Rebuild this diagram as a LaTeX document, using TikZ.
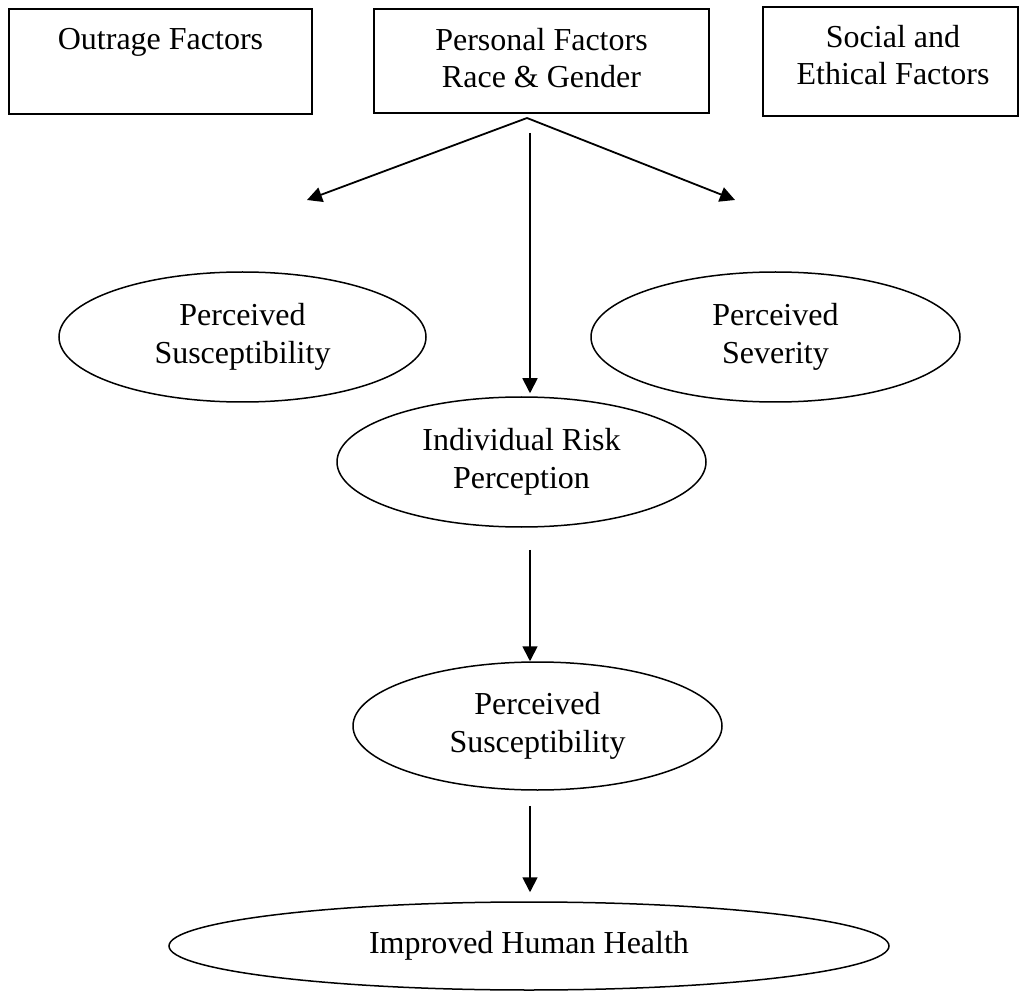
\documentclass[tikz,border=0pt]{standalone}
\usepackage{fontspec}
\setmainfont{Liberation Serif}
\usetikzlibrary{shapes.geometric,arrows.meta,calc}
\begin{document}
\begin{tikzpicture}[x=1pt,y=-1pt,
  box/.style={draw, line width=1.8pt, rectangle, inner sep=0pt},
  oval/.style={draw, line width=1.5pt, ellipse, inner sep=0pt, align=center, font=\fontsize{32}{38}\selectfont},
  txt/.style={inner sep=0pt, align=center, anchor=north, font=\fontsize{32}{37}\selectfont},
  arr/.style={line width=1.8pt, -{Triangle[length=15pt,width=15pt]}}]
\useasboundingbox (0,0) rectangle (1021,992);

% top boxes
\node[box, minimum width=303pt, minimum height=105pt] (outrage) at (160.5,61.5) {};
\node[txt] (outrageT) at (160.5,28) {Outrage Factors};
\node[box, minimum width=335pt, minimum height=104pt] (personal) at (541.5,61) {};
\node[txt] (personalT) at (541.5,28) {Personal Factors\\Race \& Gender};
\node[box, minimum width=255pt, minimum height=109pt] (social) at (890.5,61.5) {};
\node[txt] (socialT) at (893,25) {Social and\\Ethical Factors};

% ellipses
\node[oval, minimum width=367pt, minimum height=130pt] (ps1) at (242.5,337) {Perceived\\Susceptibility};
\node[oval, minimum width=369pt, minimum height=130pt] (sev) at (775.5,337) {Perceived\\Severity};
\node[oval, minimum width=369pt, minimum height=130pt] (irp) at (521.5,462) {Individual Risk\\Perception};
\node[oval, minimum width=369pt, minimum height=128pt] (ps2) at (537.5,726) {Perceived\\Susceptibility};
\node[oval, minimum width=720pt, minimum height=88pt] (ihh) at (529,946) {Improved Human Health};

% connectors
\coordinate (fork) at (527,118);
\coordinate (leftend) at (307,200);
\coordinate (rightend) at (735,200);
\coordinate (axis) at (530,0);
\coordinate (vstart) at (530,133);
\draw[arr] (fork) -- (leftend);
\draw[arr] (fork) -- (rightend);
\draw[arr, shorten >=3pt] (vstart) -- (irp.north -| axis);
\draw[arr] ($(irp.south -| axis)+(0,22)$) -- (ps2.north -| axis);
\draw[arr, shorten >=9pt] ($(ps2.south -| axis)+(0,15)$) -- (ihh.north -| axis);
\end{tikzpicture}
\end{document}
